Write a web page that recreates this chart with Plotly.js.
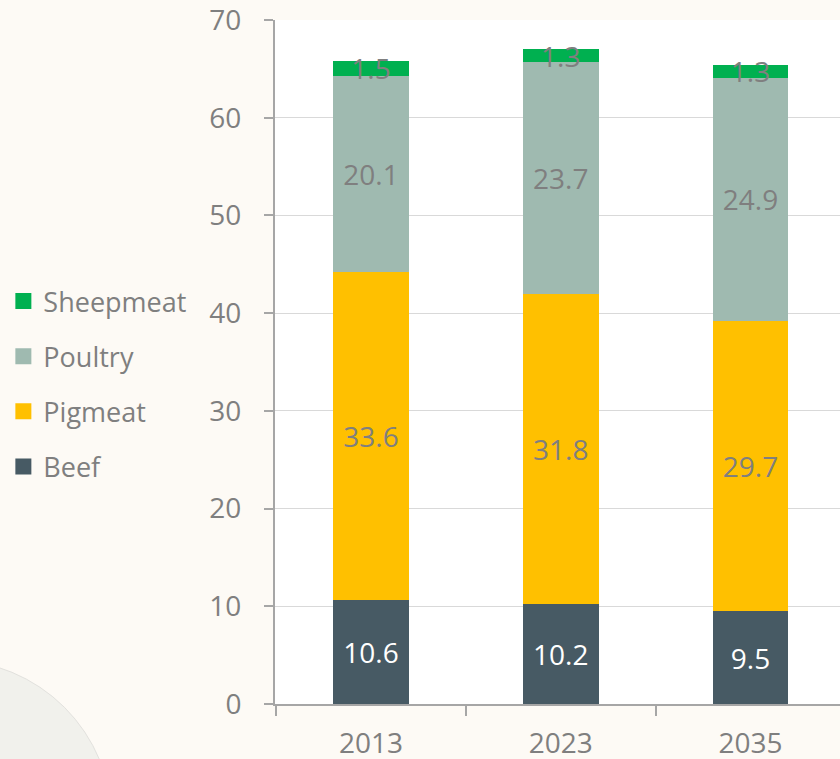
<!DOCTYPE html>
<html>
<head>
<meta charset="utf-8">
<script src="https://cdn.plot.ly/plotly-3.0.1.min.js"></script>
<style>html,body{margin:0;padding:0;background:#fdfaf5;}#chart{width:840px;height:759px;}</style>
</head>
<body>
<div id="chart"></div>
<script>
const years = ["2013", "2023", "2035"];
const beef = [10.6, 10.2, 9.5];
const pigmeat = [33.6, 31.8, 29.7];
const poultry = [20.1, 23.7, 24.9];
const sheepmeat = [1.5, 1.3, 1.3];
const yTicks = [0, 10, 20, 30, 40, 50, 60, 70];
const seriesNames = ["Beef", "Pigmeat", "Poultry", "Sheepmeat"];
const seriesColors = ["#475a64", "#ffc000", "#9fbab0", "#00b050"];

const gray = "#7f7f7f";
const font = "Open Sans, sans-serif";

function mk(i, vals, txtColor) {
  return {
    type: "bar", name: seriesNames[i], x: years, y: vals,
    marker: {color: seriesColors[i], line: {width: 0}},
    text: vals.map(v => v.toFixed(1)),
    textposition: "inside", insidetextanchor: "middle",
    constraintext: "none", textangle: 0, cliponaxis: false,
    textfont: {family: font, size: 28, color: txtColor},
    insidetextfont: {family: font, size: 28, color: txtColor},
    hoverinfo: "skip", showlegend: false
  };
}

const data = [
  mk(0, beef, "#ffffff"),
  mk(1, pigmeat, gray),
  mk(2, poultry, gray),
  mk(3, sheepmeat, gray)
];
// legend-only entries with larger square symbols
for (let i = 0; i < seriesNames.length; i++) {
  data.push({
    type: "scatter", mode: "markers", name: seriesNames[i],
    x: [null], y: [null],
    marker: {symbol: "square", size: 17, color: seriesColors[i]},
    legendgroup: "g" + i, legendrank: 10 - i, showlegend: true, hoverinfo: "skip"
  });
}

const pw = 565, ph = 684;
const px = p => (p - 275) / pw;
const py = p => (704 - p) / ph;

const layout = {
  width: 840, height: 759,
  paper_bgcolor: "#fdfaf5", plot_bgcolor: "#ffffff",
  margin: {l: 275, r: 0, t: 20, b: 55},
  barmode: "stack", bargap: 0.6,
  showlegend: true,
  legend: {
    x: 0.004, xref: "container", xanchor: "left",
    y: 0.494, yref: "container", yanchor: "middle",
    traceorder: "grouped", tracegroupgap: 17,
    font: {family: font, size: 27, color: gray},
    bgcolor: "rgba(0,0,0,0)", itemwidth: 30
  },
  font: {family: font, color: gray},
  xaxis: {
    type: "category", range: [-0.506, 2.472],
    showline: true, linecolor: "#a6a6a6", linewidth: 2,
    ticks: "outside", tickson: "boundaries", ticklen: 10, tickcolor: "#a6a6a6", tickwidth: 2,
    ticklabelstandoff: 13,
    tickfont: {family: font, size: 28, color: gray},
    showgrid: false, fixedrange: true
  },
  yaxis: {
    range: [0, 70], tickvals: yTicks, ticktext: yTicks.map(String),
    showline: true, linecolor: "#a6a6a6", linewidth: 2,
    ticks: "outside", ticklen: 9, tickcolor: "#a6a6a6", tickwidth: 2,
    ticklabelstandoff: 17, ticklabeloverflow: "allow",
    tickfont: {family: font, size: 28, color: gray},
    showgrid: true, gridcolor: "#d9d9d9", gridwidth: 1,
    zeroline: false, fixedrange: true
  },
  shapes: [
    {type: "circle", xref: "paper", yref: "paper", layer: "below",
     x0: px(-212), x1: px(112), y0: py(984), y1: py(660),
     fillcolor: "#efefeb", line: {color: "#dcdcd8", width: 1}, opacity: 0.8}
  ]
};

Plotly.newPlot("chart", data, layout, {displayModeBar: false, staticPlot: true});
</script>
</body>
</html>
